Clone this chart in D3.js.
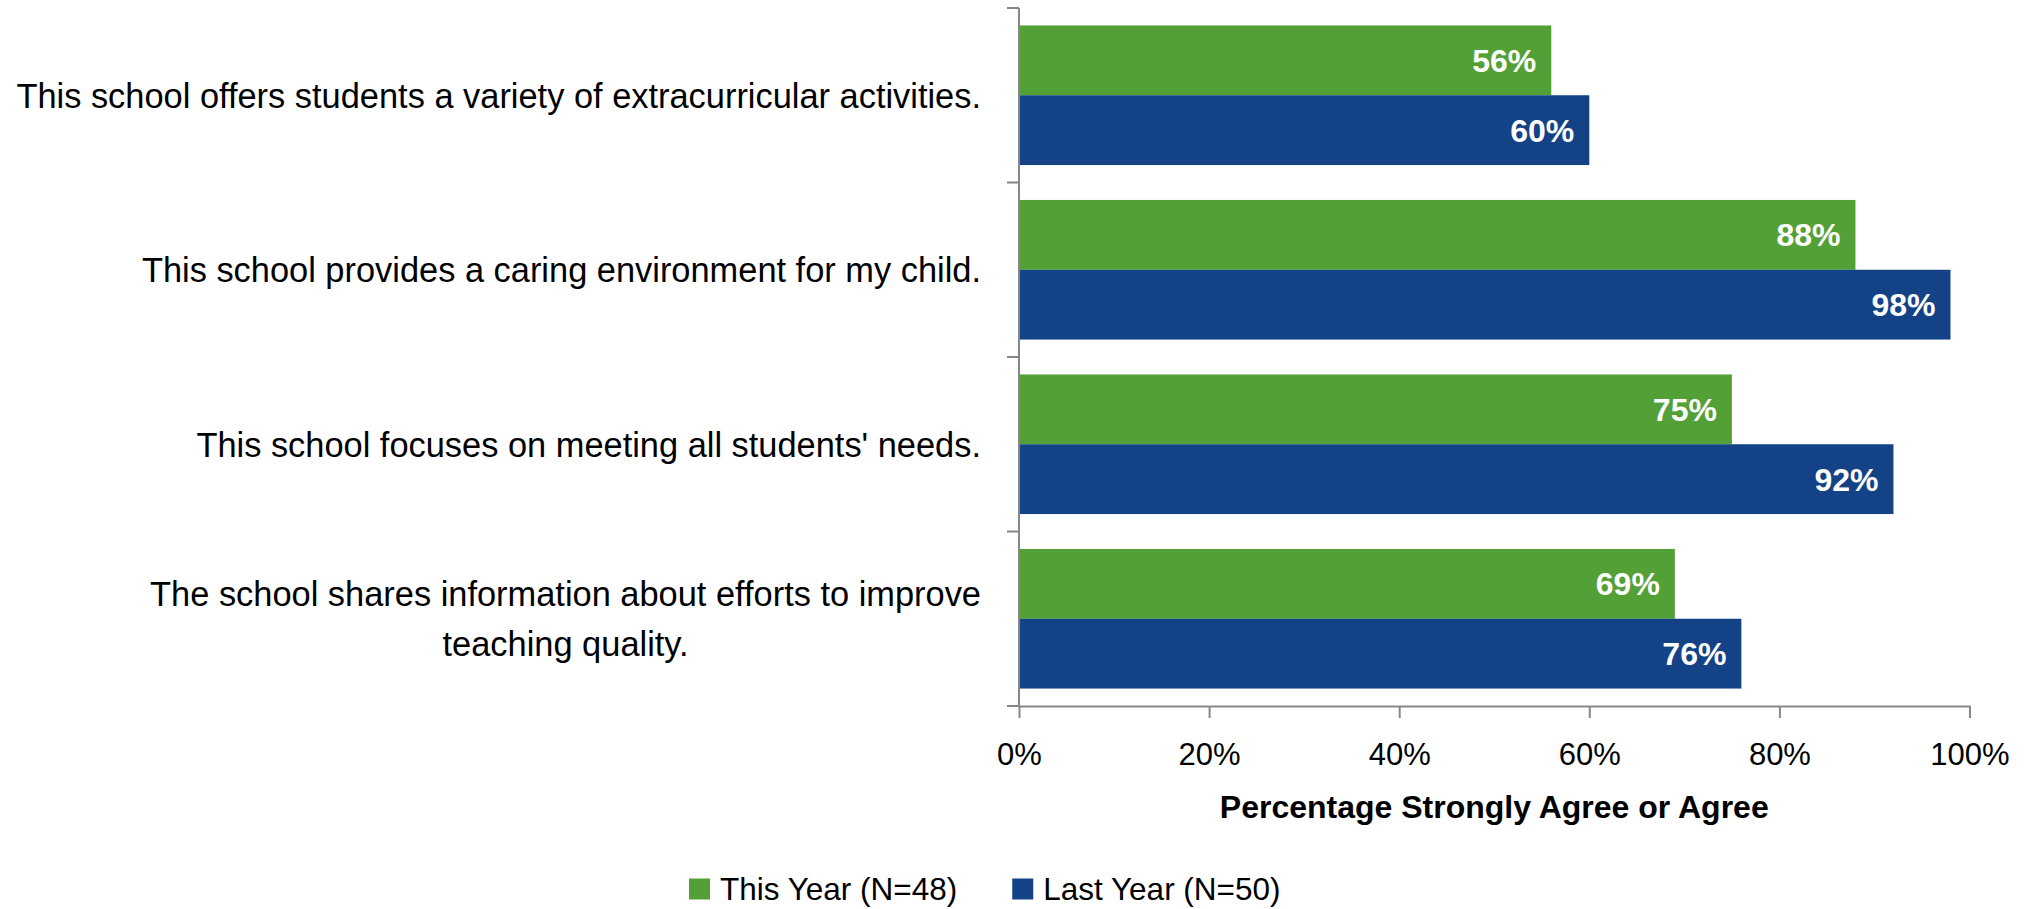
<!DOCTYPE html>
<html>
<head>
<meta charset="utf-8">
<script src="https://cdn.jsdelivr.net/npm/d3@7"></script>
<style>
  html, body { margin: 0; padding: 0; background: #fff; }
  svg { display: block; font-family: "Liberation Sans", Arial, sans-serif; }
</style>
</head>
<body>
<svg id="chart" width="2033" height="909"></svg>
<script>
// ---- data ----
const categories = [
  ["This school offers students a variety of extracurricular activities."],
  ["This school provides a caring environment for my child."],
  ["This school focuses on meeting all students' needs."],
  ["The school shares information about efforts to improve", "teaching quality."]
];
const seriesNames = ["This Year (N=48)", "Last Year (N=50)"];
const thisYear = [56, 88, 75, 69];
const lastYear = [60, 98, 92, 76];
const xTicks = [0, 20, 40, 60, 80, 100];
const xTitle = "Percentage Strongly Agree or Agree";
const colors = ["#53a036", "#134287"];

// ---- layout ----
const W = 2033, H = 909;
const plot = { left: 1019, right: 1969.5, top: 8, bottom: 706 };
const svg = d3.select("#chart");
const axisColor = "#878787";

const catKeys = categories.map((c, i) => "c" + i);
const y0 = d3.scaleBand().domain(catKeys).range([plot.top, plot.bottom]).padding(0);
const y1 = d3.scaleBand().domain(seriesNames).range([0, y0.bandwidth()]).paddingInner(0).paddingOuter(0.25);
const x = d3.scaleLinear().domain([0, 100]).range([plot.left, plot.right]);

const rows = catKeys.map((k, i) => ({ key: k, values: [thisYear[i], lastYear[i]] }));

// ---- bars ----
const groups = svg.append("g").selectAll("g.row").data(rows).join("g")
  .attr("class", "row")
  .attr("transform", d => `translate(0,${y0(d.key)})`);

groups.selectAll("rect").data(d => d.values.map((v, j) => ({ v, s: seriesNames[j], j })))
  .join("rect")
  .attr("x", x(0))
  .attr("y", d => y1(d.s))
  .attr("width", d => x(d.v) - x(0))
  .attr("height", y1.bandwidth())
  .attr("fill", d => colors[d.j]);

groups.selectAll("text.val").data(d => d.values.map((v, j) => ({ v, s: seriesNames[j], j })))
  .join("text")
  .attr("class", "val")
  .attr("x", d => x(d.v) - 15)
  .attr("y", d => y1(d.s) + y1.bandwidth() / 2)
  .attr("dy", "0.36em")
  .attr("text-anchor", "end")
  .attr("fill", "#fff")
  .attr("font-weight", "bold")
  .attr("font-size", 32)
  .text(d => d.v + "%");

// ---- x axis ----
const xAxis = d3.axisBottom(x)
  .tickValues(xTicks)
  .tickFormat(d => d + "%")
  .tickSize(12)
  .tickSizeOuter(0)
  .tickPadding(25);
const gx = svg.append("g").attr("transform", `translate(0,${plot.bottom})`).call(xAxis);
gx.select(".domain").attr("stroke", axisColor).attr("stroke-width", 2);
gx.selectAll(".tick line").attr("stroke", axisColor).attr("stroke-width", 2);
gx.selectAll(".tick text").attr("fill", "#000").attr("font-size", 31)
  .attr("font-family", "'Liberation Sans', Arial, sans-serif");

// ---- y axis ----
const gy = svg.append("g");
gy.append("line")
  .attr("x1", x(0)).attr("x2", x(0))
  .attr("y1", y0.range()[0]).attr("y2", y0.range()[1])
  .attr("stroke", axisColor).attr("stroke-width", 2);
const boundaries = catKeys.map(k => y0(k)).concat([y0.range()[1]]);
gy.selectAll("line.tk").data(boundaries).join("line")
  .attr("class", "tk")
  .attr("x1", x(0) - 12).attr("x2", x(0))
  .attr("y1", d => d).attr("y2", d => d)
  .attr("stroke", axisColor).attr("stroke-width", 2);

// category labels (right-aligned block, lines centred within block)
const labelRight = x(0) - 38;
const lineH = 50;
rows.forEach((r, i) => {
  const lines = categories[i];
  const cy = y0(r.key) + y0.bandwidth() / 2;
  const g = svg.append("g");
  const texts = lines.map((ln, li) => g.append("text")
    .attr("font-size", 34.4)
    .attr("fill", "#000")
    .attr("dy", "0.36em")
    .attr("y", cy + (li - (lines.length - 1) / 2) * lineH)
    .text(ln));
  const maxW = d3.max(texts, t => t.node().getComputedTextLength());
  texts.forEach(t => t.attr("text-anchor", "middle").attr("x", labelRight - maxW / 2));
});

// axis title
svg.append("text")
  .attr("x", (plot.left + plot.right) / 2)
  .attr("y", 818)
  .attr("text-anchor", "middle")
  .attr("font-weight", "bold")
  .attr("font-size", 32)
  .attr("fill", "#000")
  .text(xTitle);

// ---- legend ----
const legend = svg.append("g").attr("transform", "translate(689,889)");
let lx = 0;
seriesNames.forEach((name, j) => {
  const item = legend.append("g").attr("transform", `translate(${lx},0)`);
  item.append("rect").attr("x", 0).attr("y", -10.5).attr("width", 21).attr("height", 21).attr("fill", colors[j]);
  const t = item.append("text").attr("x", 31).attr("dy", "0.36em")
    .attr("font-size", 31.5).attr("fill", "#000").text(name);
  lx += 31 + t.node().getComputedTextLength() + 55;
});
</script>
</body>
</html>
